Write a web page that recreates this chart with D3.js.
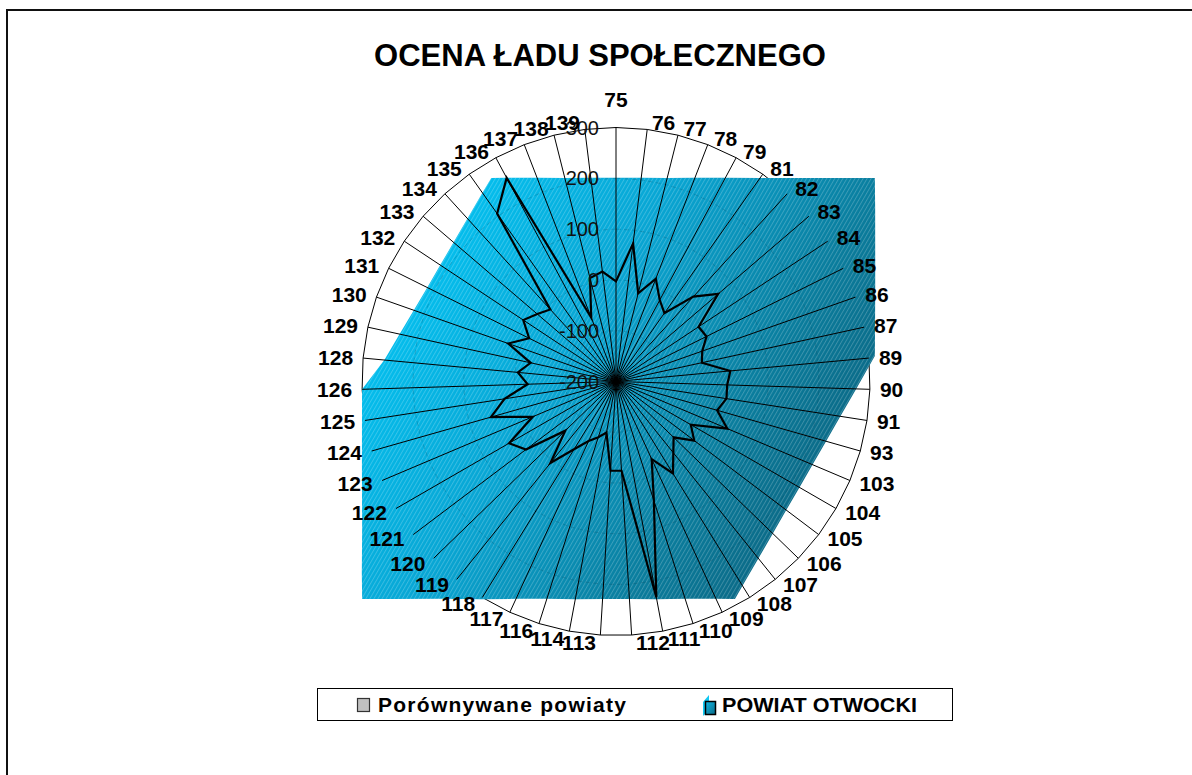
<!DOCTYPE html>
<html>
<head>
<meta charset="utf-8">
<script src="https://cdn.jsdelivr.net/npm/d3@7"></script>
<style>
  body { margin: 0; background: #fff; }
  svg { display: block; }
  text { font-family: "Liberation Sans", Arial, sans-serif; }
</style>
</head>
<body>
<svg id="chart" width="1192" height="775"></svg>
<script>
// ---------------- DATA ----------------
const chartTitle = "OCENA ŁADU SPOŁECZNEGO";
const categories = ["75","76","77","78","79","81","82","83","84","85","86","87","89","90","91","93",
  "103","104","105","106","107","108","109","110","111","112","113","114","116","117","118","119",
  "120","121","122","123","124","125","126","128","129","130","131","132","133","134","135","136",
  "137","138","139"];
// POWIAT OTWOCKI (black outline)
const otwocki = [-3, 74, -21, 17, -18, -35, 26, 65, -5, -1, -20, -27, 26, 19, 20, 7,
  38, -30, -7, -42, -20, 13, -32, 46, 232, -24, -24, -98, -85, -71, -43, 6,
  -61, 22, 43, -22, 56, 22, -26, -6, -28, 25, -9, 19, 4, -8, 205, 255,
  -65, 10, 18];
// radial reach of the gradient-filled area along each spoke (as rendered)
const otwockiFillReach = [201, 204, 213, 230, 255, 291, 342, 416, 412, 370, 341, 322, 310, 273, 247, 230,
  220, 217, 220, 230, 247, 273, 271, 249, 236, 229, 229, 236, 249, 271, 304, 349,
  415, 427, 377, 343, 320, 306, 300, 258, 236, 222, 215, 215, 221, 234, 255, 255,
  230, 213, 204];
// corners of the filled area between spokes: [position in category steps, value]
const otwockiFillCorners = [[7.344, 448], [11.953, 312], [21.437, 288], [32.5, 458], [37.72, 301], [46.54, 270]];
const axisTicks = [-200, -100, 0, 100, 200, 300];
const seriesNames = ["Porównywane powiaty", "POWIAT OTWOCKI"];

// ---------------- LAYOUT ----------------
const W = 1192, H = 775;
const cx = 616, cy = 381.5, R = 254;
const svg = d3.select("#chart");
const n = categories.length;

const rScale = d3.scaleLinear().domain([axisTicks[0], axisTicks[axisTicks.length - 1]]).range([0, R]);
const aScale = d3.scaleLinear().domain([0, n]).range([0, 2 * Math.PI]);

// defs: gradient + hatch
const defs = svg.append("defs");
const grad = defs.append("linearGradient").attr("id", "blueGrad")
  .attr("x1", 0).attr("y1", 0.25).attr("x2", 1).attr("y2", 0.75);
grad.append("stop").attr("offset", 0).attr("stop-color", "#02C5F5");
grad.append("stop").attr("offset", 0.38).attr("stop-color", "#08A6D4");
grad.append("stop").attr("offset", 0.72).attr("stop-color", "#0A7C9C");
grad.append("stop").attr("offset", 1).attr("stop-color", "#0B5F7A");

const pat = defs.append("pattern").attr("id", "hatch").attr("patternUnits", "userSpaceOnUse")
  .attr("width", 3.5).attr("height", 3.5).attr("patternTransform", "rotate(30)");
pat.append("line").attr("x1", 0.5).attr("y1", 0).attr("x2", 0.5).attr("y2", 3.5)
  .attr("stroke", "#ffffff").attr("stroke-opacity", 0.22).attr("stroke-width", 0.9);

const iconGrad = defs.append("linearGradient").attr("id", "iconGrad")
  .attr("x1", 0).attr("y1", 0).attr("x2", 1).attr("y2", 1);
iconGrad.append("stop").attr("offset", 0).attr("stop-color", "#0FB8E6");
iconGrad.append("stop").attr("offset", 1).attr("stop-color", "#0B6A86");

// frame
svg.append("rect").attr("x", 7).attr("y", 10).attr("width", W + 20).attr("height", H + 20)
  .attr("fill", "none").attr("stroke", "#111").attr("stroke-width", 2);

// title
svg.append("text").attr("x", 600).attr("y", 66).attr("text-anchor", "middle")
  .attr("font-size", 31).attr("font-weight", "bold").attr("fill", "#000").text(chartTitle);

const g = svg.append("g").attr("transform", `translate(${cx},${cy})`);

const radial = d3.lineRadial()
  .angle((d, i) => aScale(i))
  .radius(d => rScale(d))
  .curve(d3.curveLinearClosed);

const radialPos = d3.lineRadial()
  .angle(d => aScale(d[0]))
  .radius(d => rScale(d[1]))
  .curve(d3.curveLinearClosed);

// outer ring (max tick)
const maxTick = axisTicks[axisTicks.length - 1];
g.append("path").attr("d", radial(categories.map(() => maxTick)))
  .attr("fill", "none").attr("stroke", "#000").attr("stroke-width", 1);

// gradient filled area
const fillPts = otwockiFillReach.map((v, i) => [i, v]).concat(otwockiFillCorners)
  .sort((a, b) => a[0] - b[0]);
g.append("path").attr("d", radialPos(fillPts)).attr("fill", "url(#blueGrad)");
g.append("path").attr("d", radialPos(fillPts)).attr("fill", "url(#hatch)");

// inner gridlines (faint)
axisTicks.slice(1, -1).forEach(t => {
  g.append("path").attr("d", radial(categories.map(() => t)))
    .attr("fill", "none").attr("stroke", "#003a50").attr("stroke-opacity", 0.22)
    .attr("stroke-width", 1).attr("stroke-dasharray", "5,3");
});

// spokes
g.selectAll("line.spoke").data(categories).join("line").attr("class", "spoke")
  .attr("x1", 0).attr("y1", 0)
  .attr("x2", (d, i) => rScale(maxTick) * Math.sin(aScale(i)))
  .attr("y2", (d, i) => -rScale(maxTick) * Math.cos(aScale(i)))
  .attr("stroke", "#000").attr("stroke-width", 1);

// series outline
g.append("path").attr("d", radial(otwocki))
  .attr("fill", "none").attr("stroke", "#000").attr("stroke-width", 2.2).attr("stroke-linejoin", "miter");

// tick labels
g.selectAll("text.tick").data(axisTicks).join("text").attr("class", "tick")
  .attr("x", -17).attr("y", d => -rScale(d) + 7)
  .attr("text-anchor", "end").attr("font-size", 20).attr("fill", "#111")
  .text(d => d);

// category labels
g.selectAll("text.cat").data(categories).join("text").attr("class", "cat")
  .each(function (d, i) {
    const a = aScale(i), s = Math.sin(a), c = Math.cos(a);
    const ex = rScale(maxTick) * s, ey = -rScale(maxTick) * c;
    const el = d3.select(this);
    if (i === 0) {
      el.attr("x", ex).attr("y", ey - 21).attr("text-anchor", "middle");
    } else {
      const gx = 4 + 6 * Math.abs(s);
      el.attr("x", s > 0 ? ex + gx : ex - gx)
        .attr("y", ey - 7 * c + 7.5)
        .attr("text-anchor", s > 0 ? "start" : "end");
    }
  })
  .attr("font-size", 21).attr("font-weight", "bold").attr("fill", "#000")
  .text(d => d);

// legend
const lg = svg.append("g");
lg.append("rect").attr("x", 317.5).attr("y", 688.5).attr("width", 635).attr("height", 32)
  .attr("fill", "#fff").attr("stroke", "#000").attr("stroke-width", 1);
lg.append("rect").attr("x", 357.5).attr("y", 698.5).attr("width", 12).attr("height", 13)
  .attr("fill", "#C0C0C0").attr("stroke", "#333").attr("stroke-width", 1.2);
lg.append("text").attr("x", 378).attr("y", 712).attr("font-size", 21).attr("font-weight", "bold")
  .attr("textLength", 248).attr("lengthAdjust", "spacing").text(seriesNames[0]);
lg.append("polygon").attr("points", "703,716 703,702 709,695 709,710").attr("fill", "#12C8F2");
lg.append("rect").attr("x", 705.5).attr("y", 701.5).attr("width", 10).attr("height", 13)
  .attr("fill", "url(#iconGrad)").attr("stroke", "#000").attr("stroke-width", 1.5);
lg.append("text").attr("x", 722).attr("y", 712).attr("font-size", 21).attr("font-weight", "bold")
  .attr("textLength", 195).attr("lengthAdjust", "spacingAndGlyphs").text(seriesNames[1]);
</script>
</body>
</html>
